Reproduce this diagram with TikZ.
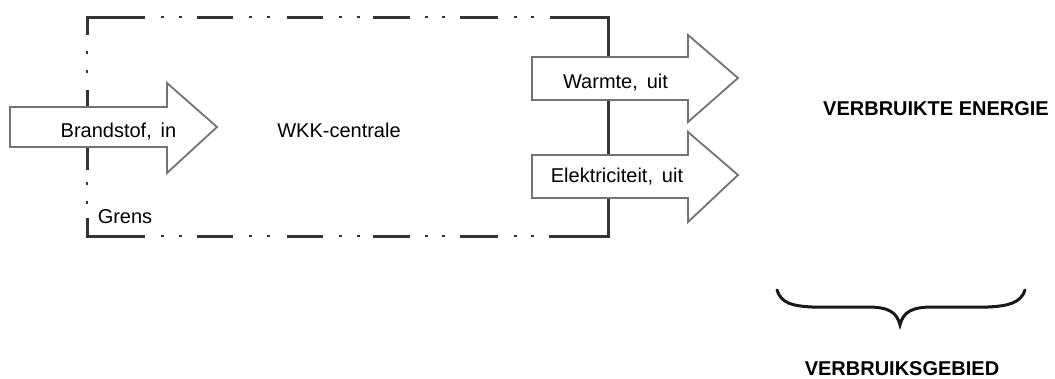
\documentclass[tikz,border=0pt]{standalone}
\usepackage{fontspec}
\setmainfont{Liberation Sans}
\begin{document}
\begin{tikzpicture}[x=1pt,y=-1pt,
  bnd/.style={draw=black!80, line width=3pt},
  dotmark/.style={draw=black!80, line width=2.5pt},
  flow/.style={draw=black!55, line width=1.8pt, fill=white, line join=miter},
  lbl/.style={font=\fontsize{20}{24}\selectfont, inner sep=0pt, anchor=base},
  caps/.style={font=\fontsize{20}{24}\selectfont\bfseries, inner sep=0pt, anchor=base},
  brace/.style={draw=black!90, line width=3pt, line cap=round}]
\useasboundingbox (0,0) rectangle (1055,378);
% boundary (Grens): dash-dot-dot, right side solid
\draw[bnd] (87,35) -- (87,17) -- (145,17);
\draw[bnd] (87,218) -- (87,236) -- (145,236);
\draw[bnd] (550,17) -- (608,17) -- (608,236) -- (549,236);
\foreach \a/\b in {197/233,287/323,373/410,460/498}{
  \draw[bnd] (\a,17) -- (\b,17);
  \draw[bnd] (\a,236) -- (\b,236);
}
\foreach \d in {162,180,250,268,340,358,426,443,515,532}{
  \draw[dotmark] (\d-1.5,17) -- (\d+1.5,17);
  \draw[dotmark] (\d-1.5,236) -- (\d+1.5,236);
}
\draw[bnd] (87,90) -- (87,126);
\draw[bnd] (87,134) -- (87,170);
\foreach \d in {52,71,183,202}{
  \draw[dotmark] (87,\d-1.5) -- (87,\d+1.5);
}
% flow arrows
\draw[flow] (10,107) -- (167,107) -- (167,83) -- (217,127) -- (167,173) -- (167,147) -- (10,147) -- cycle;
\draw[flow] (532,57) -- (688,57) -- (688,35) -- (738,78) -- (688,122) -- (688,100) -- (532,100) -- cycle;
\draw[flow] (532,155) -- (688,155) -- (688,132) -- (738,175) -- (688,222) -- (688,198) -- (532,198) -- cycle;
% labels
\node[lbl] (brand) at (118.5,137) {Brandstof,\, in};
\node[lbl] (wkk) at (339,137) {WKK-centrale};
\node[lbl] (warm) at (615.5,88) {Warmte,\, uit};
\node[lbl] (elek) at (617,182.5) {Elektriciteit,\, uit};
\node[lbl] (grens) at (125,223) {Grens};
\node[caps] (energie) at (936,115) {VERBRUIKTE ENERGIE};
\node[caps] (gebied) at (902,375) {VERBRUIKSGEBIED};
% brace
\draw[brace] (777,290) .. controls (781,303) and (792,306) .. (812,307) -- (868,307)
  .. controls (888,307) and (897,312) .. (900,325)
  .. controls (903,312) and (912,307) .. (932,307) -- (988,307)
  .. controls (1008,306) and (1021,303) .. (1025,290);
\end{tikzpicture}
\end{document}
